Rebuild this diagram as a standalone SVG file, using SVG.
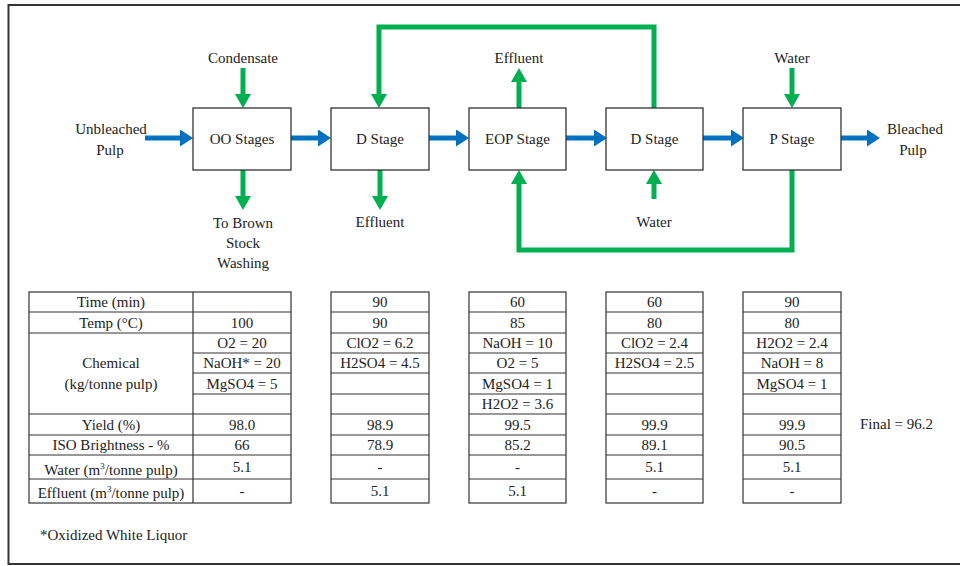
<svg xmlns="http://www.w3.org/2000/svg" width="960" height="566" viewBox="0 0 960 566">
<style>
text{font-family:"Liberation Serif","Times New Roman",serif;font-size:15px;fill:#222;text-anchor:middle}
.box{fill:#fff;stroke:#333;stroke-width:1.3}
.blue{fill:none;stroke:#0070C0;stroke-width:5}
.green{fill:none;stroke:#00B050;stroke-width:5}
.tl{stroke:#333;stroke-width:1.2;fill:none}
.st{text-anchor:start}
</style>
<defs>
<marker id="ab" markerUnits="userSpaceOnUse" viewBox="0 0 13 17" markerWidth="13" markerHeight="17" refX="0" refY="8.5" orient="auto"><path d="M0,0 L13,8.5 L0,17 Z" fill="#0070C0"/></marker>
<marker id="ag" markerUnits="userSpaceOnUse" viewBox="0 0 14 16" markerWidth="14" markerHeight="16" refX="0" refY="8" orient="auto"><path d="M0,0 L14,8 L0,16 Z" fill="#00B050"/></marker>
</defs>
<rect width="960" height="566" fill="#fff"/>
<path d="M960,5 H8.5 V564 H960" fill="none" stroke="#333" stroke-width="2"/>

<g id="connectors">
<path class="blue" d="M145,138 H180" marker-end="url(#ab)"/>
<path class="blue" d="M291,138 H318" marker-end="url(#ab)"/>
<path class="blue" d="M429,138 H456" marker-end="url(#ab)"/>
<path class="blue" d="M566,138 H594" marker-end="url(#ab)"/>
<path class="blue" d="M703,138 H731" marker-end="url(#ab)"/>
<path class="blue" d="M841,138 H867" marker-end="url(#ab)"/>
<path class="green" d="M243,68 V94" marker-end="url(#ag)"/>
<path class="green" d="M243,170 V196" marker-end="url(#ag)"/>
<path class="green" d="M380,170 V196" marker-end="url(#ag)"/>
<path class="green" d="M654,108 V27 H379 V94" marker-end="url(#ag)"/>
<path class="green" d="M519,108 V82" marker-end="url(#ag)"/>
<path class="green" d="M654,199 V184" marker-end="url(#ag)"/>
<path class="green" d="M792,68 V94" marker-end="url(#ag)"/>
<path class="green" d="M792,170 V250 H519 V184" marker-end="url(#ag)"/>
</g>

<g id="labels">
<text x="243" y="63">Condensate</text>
<text x="519" y="63">Effluent</text>
<text x="792" y="63">Water</text>
<text x="111" y="134">Unbleached</text>
<text x="110" y="155">Pulp</text>
<text x="915" y="134">Bleached</text>
<text x="913" y="155">Pulp</text>
<text x="243" y="228">To Brown</text>
<text x="243" y="248">Stock</text>
<text x="243" y="268">Washing</text>
<text x="380" y="227">Effluent</text>
<text x="654" y="227">Water</text>
</g>

<g id="oo-stages"><rect class="box" x="193" y="108" width="98" height="62"/><text x="242" y="144">OO Stages</text></g>
<g id="d-stage-1"><rect class="box" x="331" y="108" width="98" height="62"/><text x="380" y="144">D Stage</text></g>
<g id="eop-stage"><rect class="box" x="469" y="108" width="97" height="62"/><text x="517.5" y="144">EOP Stage</text></g>
<g id="d-stage-2"><rect class="box" x="606" y="108" width="97" height="62"/><text x="654.5" y="144">D Stage</text></g>
<g id="p-stage"><rect class="box" x="743" y="108" width="98" height="62"/><text x="792" y="144">P Stage</text></g>

<g id="table-oo">
<rect class="tl" x="29" y="292" width="262" height="211"/>
<path class="tl" d="M193,292 V503 M29,312 H291 M29,333 H291 M193,353 H291 M193,373 H291 M193,394 H291 M29,414 H291 M29,435 H291 M29,455 H291 M29,479 H291"/>
<text x="111" y="307">Time (min)</text>
<text x="111" y="327.5">Temp (°C)</text>
<text x="111" y="368">Chemical</text>
<text x="111" y="389">(kg/tonne pulp)</text>
<text x="111" y="429.5">Yield (%)</text>
<text x="111" y="450">ISO Brightness - %</text>
<text x="111" y="475">Water (m<tspan font-size="9" dy="-6">3</tspan><tspan dy="6">/tonne pulp)</tspan></text>
<text x="111" y="498">Effluent (m<tspan font-size="9" dy="-6">3</tspan><tspan dy="6">/tonne pulp)</tspan></text>
<text x="242" y="327.5">100</text>
<text x="242" y="348">O2 = 20</text>
<text x="242" y="368">NaOH* = 20</text>
<text x="242" y="388.5">MgSO4 = 5</text>
<text x="242" y="429.5">98.0</text>
<text x="242" y="450">66</text>
<text x="242" y="472">5.1</text>
<text x="242" y="496">-</text>
</g>

<g id="table-d1">
<rect class="tl" x="331" y="292" width="98" height="211"/>
<path class="tl" d="M331,312 H429 M331,333 H429 M331,353 H429 M331,373 H429 M331,394 H429 M331,414 H429 M331,435 H429 M331,455 H429 M331,479 H429"/>
<text x="380" y="307">90</text>
<text x="380" y="327.5">90</text>
<text x="380" y="348">ClO2 = 6.2</text>
<text x="380" y="368">H2SO4 = 4.5</text>
<text x="380" y="429.5">98.9</text>
<text x="380" y="450">78.9</text>
<text x="380" y="472">-</text>
<text x="380" y="496">5.1</text>
</g>

<g id="table-eop">
<rect class="tl" x="469" y="292" width="97" height="211"/>
<path class="tl" d="M469,312 H566 M469,333 H566 M469,353 H566 M469,373 H566 M469,394 H566 M469,414 H566 M469,435 H566 M469,455 H566 M469,479 H566"/>
<text x="517.5" y="307">60</text>
<text x="517.5" y="327.5">85</text>
<text x="517.5" y="348">NaOH = 10</text>
<text x="517.5" y="368">O2 = 5</text>
<text x="517.5" y="388.5">MgSO4 = 1</text>
<text x="517.5" y="409">H2O2 = 3.6</text>
<text x="517.5" y="429.5">99.5</text>
<text x="517.5" y="450">85.2</text>
<text x="517.5" y="472">-</text>
<text x="517.5" y="496">5.1</text>
</g>

<g id="table-d2">
<rect class="tl" x="606" y="292" width="97" height="211"/>
<path class="tl" d="M606,312 H703 M606,333 H703 M606,353 H703 M606,373 H703 M606,394 H703 M606,414 H703 M606,435 H703 M606,455 H703 M606,479 H703"/>
<text x="654.5" y="307">60</text>
<text x="654.5" y="327.5">80</text>
<text x="654.5" y="348">ClO2 = 2.4</text>
<text x="654.5" y="368">H2SO4 = 2.5</text>
<text x="654.5" y="429.5">99.9</text>
<text x="654.5" y="450">89.1</text>
<text x="654.5" y="472">5.1</text>
<text x="654.5" y="496">-</text>
</g>

<g id="table-p">
<rect class="tl" x="743" y="292" width="98" height="211"/>
<path class="tl" d="M743,312 H841 M743,333 H841 M743,353 H841 M743,373 H841 M743,394 H841 M743,414 H841 M743,435 H841 M743,455 H841 M743,479 H841"/>
<text x="792" y="307">90</text>
<text x="792" y="327.5">80</text>
<text x="792" y="348">H2O2 = 2.4</text>
<text x="792" y="368">NaOH = 8</text>
<text x="792" y="388.5">MgSO4 = 1</text>
<text x="792" y="429.5">99.9</text>
<text x="792" y="450">90.5</text>
<text x="792" y="472">5.1</text>
<text x="792" y="496">-</text>
</g>

<g id="notes">
<text class="st" x="860" y="429">Final = 96.2</text>
<text class="st" x="40" y="540">*Oxidized White Liquor</text>
</g>
</svg>
